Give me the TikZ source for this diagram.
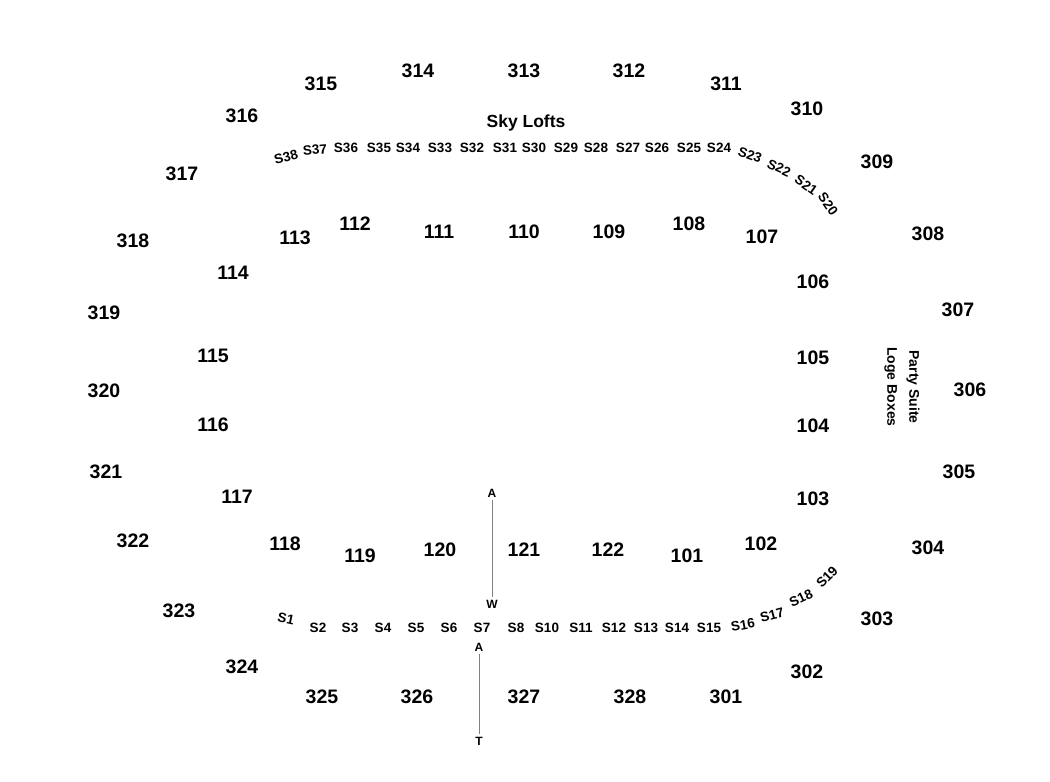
\documentclass[tikz,border=0pt]{standalone}
\usepackage{fontspec}
\setmainfont{Liberation Sans}
\tikzset{
  sect/.style={font=\fontsize{19.5}{20}\selectfont\bfseries},
  seat/.style={font=\fontsize{13.5}{14}\selectfont\bfseries},
  aisle/.style={font=\fontsize{12}{13}\selectfont\bfseries, inner sep=3pt},
  aisleline/.style={draw=gray, line width=0.9pt}
}
\begin{document}
\begin{tikzpicture}[x=1pt, y=-1pt]
		\useasboundingbox (0,0) rectangle (1050,782);
		% upper ring
		\node [sect] (s314) at (418,71) {314};
		\node [sect] (s313) at (524,71) {313};
		\node [sect] (s312) at (629,71) {312};
		\node [sect] (s315) at (321,84) {315};
		\node [sect] (s311) at (726,84) {311};
		\node [sect] (s316) at (242,116) {316};
		\node [sect] (s310) at (807,109) {310};
		\node [sect] (s317) at (182,174) {317};
		\node [sect] (s309) at (877,162) {309};
		\node [sect] (s318) at (133,241) {318};
		\node [sect] (s308) at (928,234) {308};
		\node [sect] (s319) at (104,313) {319};
		\node [sect] (s307) at (958,310) {307};
		\node [sect] (s320) at (104,391) {320};
		\node [sect] (s306) at (970,390) {306};
		\node [sect] (s321) at (106,472) {321};
		\node [sect] (s305) at (959,472) {305};
		\node [sect] (s322) at (133,541) {322};
		\node [sect] (s304) at (928,548) {304};
		\node [sect] (s323) at (179,611) {323};
		\node [sect] (s303) at (877,619) {303};
		\node [sect] (s324) at (242,667) {324};
		\node [sect] (s302) at (807,672) {302};
		\node [sect] (s325) at (322,697) {325};
		\node [sect] (s326) at (417,697) {326};
		\node [sect] (s327) at (524,697) {327};
		\node [sect] (s328) at (630,697) {328};
		\node [sect] (s301) at (726,697) {301};
		
		% lower ring
		\node [sect] (s113) at (295,238) {113};
		\node [sect] (s112) at (355,224) {112};
		\node [sect] (s111) at (439,232) {111};
		\node [sect] (s110) at (524,232) {110};
		\node [sect] (s109) at (609,232) {109};
		\node [sect] (s108) at (689,224) {108};
		\node [sect] (s107) at (762,237) {107};
		\node [sect] (s114) at (233,273) {114};
		\node [sect] (s106) at (813,282) {106};
		\node [sect] (s115) at (213,356) {115};
		\node [sect] (s105) at (813,358) {105};
		\node [sect] (s116) at (213,425) {116};
		\node [sect] (s104) at (813,426) {104};
		\node [sect] (s117) at (237,497) {117};
		\node [sect] (s103) at (813,499) {103};
		\node [sect] (s118) at (285,544) {118};
		\node [sect] (s119) at (360,556) {119};
		\node [sect] (s120) at (440,550) {120};
		\node [sect] (s121) at (524,550) {121};
		\node [sect] (s122) at (608,550) {122};
		\node [sect] (s101) at (687,556) {101};
		\node [sect] (s102) at (761,544) {102};
		
		% sky lofts
		\node [font=\fontsize{17.5}{18}\selectfont\bfseries] (lofts) at (526,123) {Sky Lofts};
		\node [seat, rotate=15] (l38) at (286,157) {S38};
		\node [seat, rotate=5] (l37) at (315,150) {S37};
		\node [seat] (l36) at (346,148) {S36};
		\node [seat] (l35) at (379,148) {S35};
		\node [seat] (l34) at (408,148) {S34};
		\node [seat] (l33) at (440,148) {S33};
		\node [seat] (l32) at (472,148) {S32};
		\node [seat] (l31) at (505,148) {S31};
		\node [seat] (l30) at (534,148) {S30};
		\node [seat] (l29) at (566,148) {S29};
		\node [seat] (l28) at (596,148) {S28};
		\node [seat] (l27) at (628,148) {S27};
		\node [seat] (l26) at (657,148) {S26};
		\node [seat] (l25) at (689,148) {S25};
		\node [seat] (l24) at (719,148) {S24};
		\node [seat, rotate=-20, inner sep=1pt] (l23) at (750,155) {S23};
		\node [seat, rotate=-25, inner sep=1pt] (l22) at (779,168) {S22};
		\node [seat, rotate=-35, inner sep=1pt] (l21) at (806,185) {S21};
		\node [seat, rotate=-55, inner sep=1pt] (l20) at (828,204) {S20};
		
		\node [seat, rotate=-12] (l1) at (286,619) {S1};
		\node [seat] (l2) at (318,628) {S2};
		\node [seat] (l3) at (350,628) {S3};
		\node [seat] (l4) at (383,628) {S4};
		\node [seat] (l5) at (416,628) {S5};
		\node [seat] (l6) at (449,628) {S6};
		\node [seat] (l7) at (482,628) {S7};
		\node [seat] (l8) at (516,628) {S8};
		\node [seat] (l10) at (547,628) {S10};
		\node [seat] (l11) at (581,628) {S11};
		\node [seat] (l12) at (614,628) {S12};
		\node [seat] (l13) at (646,628) {S13};
		\node [seat] (l14) at (677,628) {S14};
		\node [seat] (l15) at (709,628) {S15};
		\node [seat, rotate=10, inner sep=1pt] (l16) at (743,625) {S16};
		\node [seat, rotate=15, inner sep=1pt] (l17) at (772,615) {S17};
		\node [seat, rotate=25, inner sep=1pt] (l18) at (801,598) {S18};
		\node [seat, rotate=45, inner sep=1pt] (l19) at (827,577) {S19};
		
		\node [font=\fontsize{14}{22}\selectfont\bfseries, rotate=-90, align=center, inner sep=0pt] (party) at (902,387) {Party Suite\\Loge Boxes};
		
		% aisles
		\node [aisle] (a1) at (492,493) {A};
		\node [aisle] (w1) at (492,604) {W};
		\draw [aisleline] (a1) -- (w1);
		\node [aisle] (a2) at (479,647) {A};
		\node [aisle] (t2) at (479,741) {T};
		\draw [aisleline] (a2) -- (t2);
		
		\end{tikzpicture}
\end{document}
